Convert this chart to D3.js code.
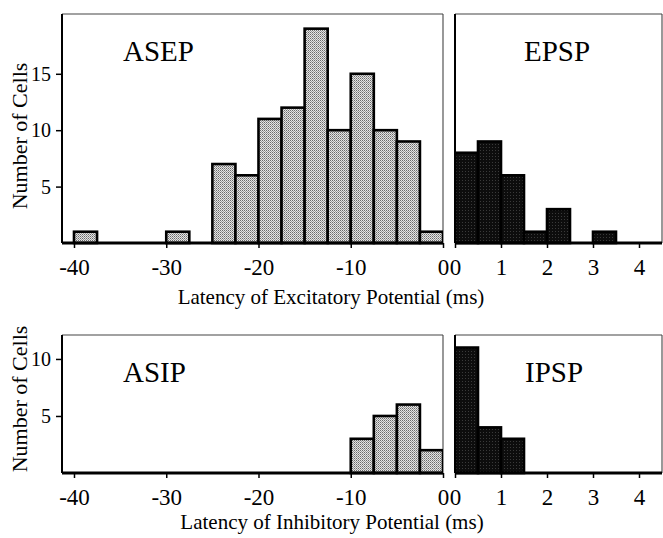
<!DOCTYPE html>
<html><head><meta charset="utf-8">
<script src="https://cdn.jsdelivr.net/npm/d3@7"></script>
<style>
html,body{margin:0;padding:0;background:#fff;}
svg{display:block;}
text{font-family:"Liberation Serif","Times New Roman",serif;fill:#000;}
</style></head>
<body>
<svg id="chart" width="663" height="538"></svg>
<script>
// ---- data ----
const asepBinStart = [-40, -30, -25, -22.5, -20, -17.5, -15, -12.5, -10, -7.5, -5, -2.5];
const asepCounts   = [1, 1, 7, 6, 11, 12, 19, 10, 15, 10, 9, 1];
const asepBinWidth = 2.5;

const epspBinStart = [0, 0.5, 1, 1.5, 2, 3];
const epspCounts   = [8, 9, 6, 1, 3, 1];
const epspBinWidth = 0.5;

const asipBinStart = [-10, -7.5, -5, -2.5];
const asipCounts   = [3, 5, 6, 2];
const asipBinWidth = 2.5;

const ipspBinStart = [0, 0.5, 1];
const ipspCounts   = [11, 4, 3];
const ipspBinWidth = 0.5;

const asTicks = [-40, -30, -20, -10, 0];
const pspTicks = [0, 1, 2, 3, 4];
const yTicksTop = [5, 10, 15];
const yTicksBottom = [5, 10];

const panelLabels = ["ASEP", "EPSP", "ASIP", "IPSP"];
const yTitle = "Number of Cells";
const xTitleTop = "Latency of Excitatory Potential (ms)";
const xTitleBottom = "Latency of Inhibitory Potential (ms)";

// ---- drawing ----
const svg = d3.select("#chart");
const defs = svg.append("defs");
const pat = defs.append("pattern").attr("id","stipple").attr("width",2).attr("height",2)
  .attr("patternUnits","userSpaceOnUse");
pat.append("rect").attr("width",2).attr("height",2).attr("fill","#e4e4e4");
pat.append("rect").attr("width",1).attr("height",1).attr("fill","#6a6a6a");
pat.append("rect").attr("x",1).attr("y",1).attr("width",1).attr("height",1).attr("fill","#9a9a9a");

const pat2 = defs.append("pattern").attr("id","darkstipple").attr("width",3).attr("height",3)
  .attr("patternUnits","userSpaceOnUse");
pat2.append("rect").attr("width",3).attr("height",3).attr("fill","#0d0d0d");
pat2.append("rect").attr("width",1).attr("height",1).attr("fill","#3a3a3a");

const xAS = d3.scaleLinear().domain([-41.3, 0]).range([62, 443]);
const xPSP = d3.scaleLinear().domain([0, 4.5]).range([455, 662]);
const yTop = d3.scaleLinear().domain([0, 20.3]).range([243, 14]);
const yBot = d3.scaleLinear().domain([0, 12.1]).range([473, 335]);

function panel(x, y, starts, counts, w, fill, label, labelX, yTicks, ticks, showY) {
  const g = svg.append("g");
  const [x0, x1] = x.range();
  const [y1, y0] = y.range();
  const clipId = "clip" + label;
  defs.append("clipPath").attr("id", clipId).append("rect")
    .attr("x", x0).attr("y", y0 - 2).attr("width", x1 - x0).attr("height", y1 - y0 + 4);
  // frame top & right thin
  g.append("line").attr("x1",x0).attr("x2",x1).attr("y1",y0).attr("y2",y0)
    .attr("stroke","#444").attr("stroke-width",1.1);
  g.append("line").attr("x1",x1).attr("x2",x1).attr("y1",y0).attr("y2",y1)
    .attr("stroke","#444").attr("stroke-width",1.1);
  // bars
  g.append("g").attr("clip-path", `url(#${clipId})`).selectAll("rect")
    .data(starts.map((s, i) => ({s, c: counts[i]})))
    .join("rect")
    .attr("x", d => x(d.s))
    .attr("width", d => x(d.s + w) - x(d.s))
    .attr("y", d => y(d.c))
    .attr("height", d => y(0) - y(d.c))
    .attr("fill", fill)
    .attr("stroke", "#000")
    .attr("stroke-width", 2.6);
  // x axis
  const xa = g.append("g").attr("transform", `translate(0,${y1})`)
    .call(d3.axisBottom(x).tickValues(ticks).tickSize(5).tickPadding(11).tickFormat(d3.format("d")));
  xa.select(".domain").attr("stroke-width", 3).attr("d", `M${x0},0H${x1}`);
  xa.selectAll(".tick line").attr("stroke-width", 1.5);
  xa.selectAll(".tick text").style("font-size", "23px")
    .text(d => d < 0 ? "-" + Math.abs(d) : d);
  // y axis
  const ya = g.append("g").attr("transform", `translate(${x0},0)`)
    .call(d3.axisLeft(y).tickValues(showY ? yTicks : []).tickSize(6).tickPadding(5));
  ya.select(".domain").attr("stroke-width", 2).attr("d", `M0,${y0}V${y1}`);
  ya.selectAll(".tick line").attr("stroke-width", 1.5);
  ya.selectAll(".tick text").style("font-size", "20px");
  // label
  g.append("text").attr("x", labelX).attr("y", y0 + 47).style("font-size", "29px").text(label);
}

panel(xAS, yTop, asepBinStart, asepCounts, asepBinWidth, "url(#stipple)", panelLabels[0], 123, yTicksTop, asTicks, true);
panel(xPSP, yTop, epspBinStart, epspCounts, epspBinWidth, "url(#darkstipple)", panelLabels[1], 524, yTicksTop, pspTicks, false);
panel(xAS, yBot, asipBinStart, asipCounts, asipBinWidth, "url(#stipple)", panelLabels[2], 123, yTicksBottom, asTicks, true);
panel(xPSP, yBot, ipspBinStart, ipspCounts, ipspBinWidth, "url(#darkstipple)", panelLabels[3], 525, yTicksBottom, pspTicks, false);

// titles
svg.append("text").attr("transform", "translate(27,136) rotate(-90)").attr("text-anchor","middle")
  .style("font-size", "22px").text(yTitle);
svg.append("text").attr("transform", "translate(27,399) rotate(-90)").attr("text-anchor","middle")
  .style("font-size", "22px").text(yTitle);
svg.append("text").attr("x", 331).attr("y", 304).attr("text-anchor","middle")
  .style("font-size", "21px").text(xTitleTop);
svg.append("text").attr("x", 332).attr("y", 529).attr("text-anchor","middle")
  .style("font-size", "21px").text(xTitleBottom);
</script>
</body></html>
